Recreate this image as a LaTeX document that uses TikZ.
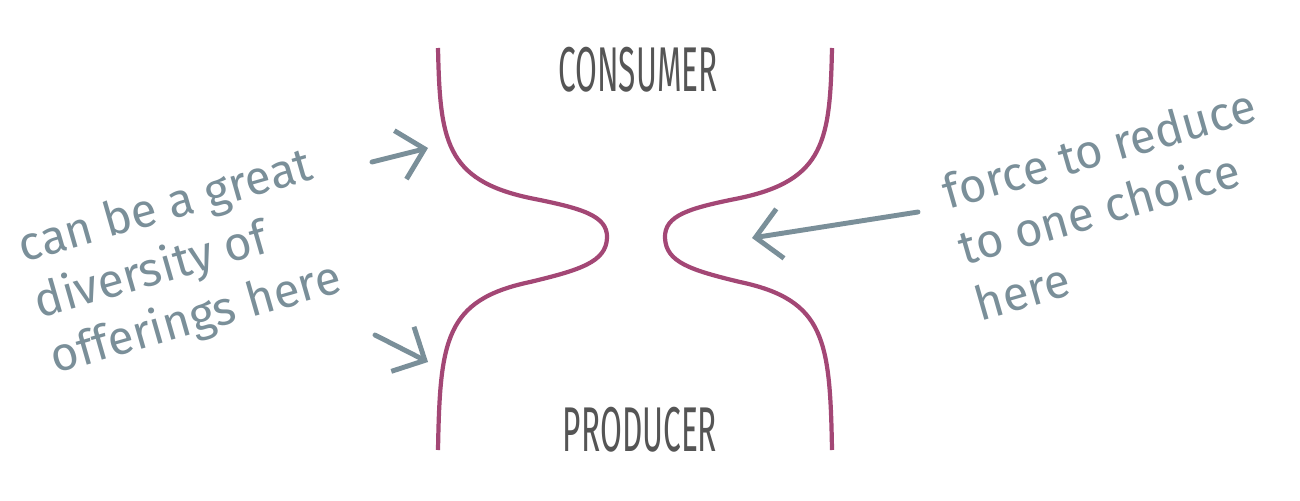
\documentclass[tikz,border=0pt]{standalone}
\usepackage{fontspec}
\setmainfont{Fira Sans}
\newfontfamily\labelfont{Fira Sans}
\usetikzlibrary{arrows.meta}
\definecolor{plum}{HTML}{A34775}
\definecolor{slate}{HTML}{7A8F99}
\definecolor{ink}{HTML}{555555}
\begin{document}
\begin{tikzpicture}[x=0.02cm,y=-0.02cm]
  \useasboundingbox (0,0) rectangle (1300,500);

  % the two walls of the funnel
  \begin{scope}[plum,line width=2.4pt]
    \draw (438,48) .. controls (440,140) and (445,180) .. (530,198)
                   .. controls (580,208) and (608,215) .. (607,238)
                   .. controls (606,262) and (580,270) .. (530,282)
                   .. controls (445,300) and (440,340) .. (438,450);
    \draw (832,48) .. controls (830,140) and (825,180) .. (740,198)
                   .. controls (690,208) and (664,215) .. (665,238)
                   .. controls (666,262) and (690,270) .. (740,282)
                   .. controls (825,300) and (830,340) .. (832,450);
  \end{scope}

  \begin{scope}[every node/.style={text=ink,font=\labelfont\fontsize{36}{36}\selectfont}]
    \node (consumer) at (638,70)  {\scalebox{0.5}[1]{CONSUMER}};
    \node (producer) at (640,430) {\scalebox{0.5}[1]{PRODUCER}};
  \end{scope}

  \begin{scope}[every node/.style={text=slate,rotate=16,align=left,
      font=\fontsize{27}{33}\selectfont}]
    \node (diversity) at (182,264) {can be a great\\diversity of\\offerings here};
    \node (reduce)    at (1115,204) {force to reduce\\to one choice\\here};
  \end{scope}

  \coordinate (topfrom) at (372,162);
  \coordinate (topto)   at (428,148);
  \coordinate (botfrom) at (375,335);
  \coordinate (botto)   at (428,362);
  \coordinate (midfrom) at (918,212);
  \coordinate (midto)   at (752,238);

  \begin{scope}[slate,line width=2.8pt,line cap=round,
      -{Straight Barb[length=5mm,width=10mm,line width=2.8pt]}]
    \draw (topfrom) -- (topto);
    \draw (botfrom) -- (botto);
    \draw (midfrom) -- (midto);
  \end{scope}

\end{tikzpicture}
\end{document}
